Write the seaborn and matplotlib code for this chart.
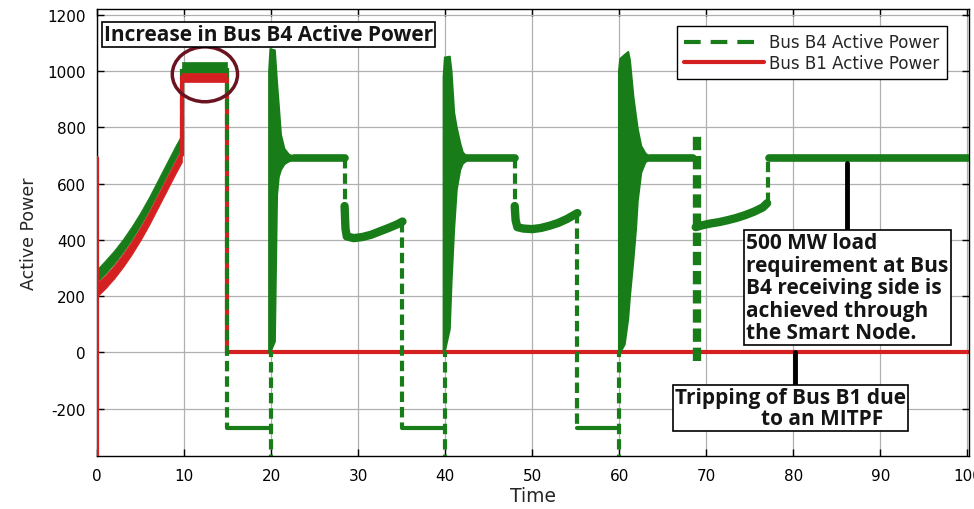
import matplotlib
matplotlib.use("Agg")
import matplotlib.pyplot as plt
from matplotlib.lines import Line2D
from matplotlib.patches import Ellipse
import seaborn as sns

# ---------------- data ----------------
# initial ramp (0 - 10 s): band centres of both buses
ramp_t = [0, 1, 2, 3, 4, 5, 6, 7, 8, 9, 9.75]
b4_ramp = [272, 305, 340, 380, 425, 475, 530, 590, 650, 710, 752]
b1_ramp = [222, 252, 287, 327, 372, 422, 477, 537, 597, 657, 700]

# plateau 10 - 15 s (lower / upper edge of the noisy band)
plateau_t = [9.75, 14.92]
b4_plateau_lo, b4_plateau_hi = 993, 1032
b1_plateau_lo, b1_plateau_hi = 962, 993

# Bus B1 after tripping
b1_spike_t, b1_spike_p = [0, 0], [-400, 690]
b1_rise_t, b1_rise_p = [9.75, 9.75], [700, 977]
b1_trip_t, b1_trip_p = [14.92, 14.92, 101], [977, 0, 0]

# Bus B4 steady levels
b4_settled = 690
b4_settled_spans = [(22.6, 28.45), (42.5, 48.0), (63.5, 68.5), (77.2, 101)]
b4_outage = -270
b4_outage_spans = [(14.92, 19.8), (35.1, 39.8), (55.2, 59.8)]

# Bus B4 recovering dips
dip1_t = [28.45, 28.55, 28.7, 29.5, 30.5, 31.5, 32.5, 33.5, 34.5, 35.1]
dip1_p = [520, 440, 412, 406, 410, 418, 430, 442, 455, 465]
dip2_t = [48.0, 48.1, 48.3, 49, 50, 51, 52, 53, 54, 55.2]
dip2_p = [520, 470, 445, 440, 438, 442, 450, 460, 474, 495]
dip3_t = [68.8, 69.6, 70.5, 71.5, 72.5, 73.5, 74.5, 75.5, 76.5, 77.0]
dip3_p = [445, 452, 458, 463, 470, 478, 488, 500, 515, 530]

# Bus B4 switching transients (envelopes)
osc1_t = [19.7, 19.85, 20.4, 20.65, 20.85, 21.1, 21.5, 22.0, 22.6]
osc1_hi = [1000, 1080, 1075, 960, 880, 775, 725, 705, 697]
osc1_lo = [0, 0, 40, 560, 625, 650, 670, 680, 684]
osc2_t = [39.75, 39.9, 40.5, 40.7, 41.0, 41.3, 41.7, 42.0, 42.5]
osc2_hi = [980, 1050, 1053, 1000, 854, 800, 745, 712, 697]
osc2_lo = [0, 0, 84, 250, 440, 580, 650, 672, 684]
osc3_t = [59.9, 60.05, 60.6, 61.0, 61.2, 61.6, 61.9, 62.1, 62.5, 63.0, 63.5]
osc3_hi = [1000, 1045, 1060, 1070, 1040, 910, 840, 795, 735, 708, 697]
osc3_lo = [0, 0, 30, 120, 200, 330, 440, 540, 640, 678, 685]

# Bus B4 step changes (time, from, to)
b4_jumps = [(9.75, 752, 1012), (14.92, 1012, -270), (20.0, -400, 0),
            (28.45, 690, 520), (35.1, 465, -270), (40.0, -400, 0),
            (48.0, 690, 520), (55.2, 495, -270), (60.0, -400, 0),
            (77.1, 530, 690)]
b4_flicker = (69.0, -30, 770)

x_ticks = list(range(0, 101, 10))
y_ticks = list(range(-200, 1201, 200))

# ---------------- style ----------------
GREEN = "#187c18"
RED = "#d42020"
sns.set_style("ticks")
plt.rcParams["font.family"] = ["DejaVu Sans"]
plt.rcParams["axes.unicode_minus"] = False

fig = plt.figure(figsize=(9.74, 5.10), dpi=100)
ax = fig.add_axes([97 / 974, 1 - 457 / 510, 872 / 974, 447 / 510])


def trace(t, p, **kw):
    sns.lineplot(x=t, y=p, ax=ax, estimator=None, sort=False, **kw)


DASH = (0, (2.5, 1.2))

# Bus B4 -------------------------------------------------------------
ax.fill_between(ramp_t, [v - 24 for v in b4_ramp], [v + 24 for v in b4_ramp],
                color=GREEN, lw=0.5, zorder=3)
ax.fill_between(plateau_t, [b4_plateau_lo] * 2, [b4_plateau_hi] * 2,
                color=GREEN, lw=0.5, zorder=3)
for t, lo, hi in [(osc1_t, osc1_lo, osc1_hi), (osc2_t, osc2_lo, osc2_hi),
                  (osc3_t, osc3_lo, osc3_hi)]:
    ax.fill_between(t, lo, hi, color=GREEN, lw=1.2, zorder=3)
for a, b in b4_settled_spans:
    trace([a, b], [b4_settled, b4_settled], color=GREEN, lw=5.5, zorder=3)
for a, b in b4_outage_spans:
    trace([a, b], [b4_outage, b4_outage], color=GREEN, lw=3, zorder=3)
for t, p in [(dip1_t, dip1_p), (dip2_t, dip2_p), (dip3_t, dip3_p)]:
    trace(t, p, color=GREEN, lw=6, zorder=3)
for t, a, b in b4_jumps:
    trace([t, t], [a, b], color=GREEN, lw=3, linestyle=DASH, zorder=3)
ft, fa, fb = b4_flicker
trace([ft, ft], [fa, fb], color=GREEN, lw=6, linestyle=(0, (1.6, 0.7)), zorder=3)

# Bus B1 -------------------------------------------------------------
ax.fill_between(ramp_t, [v - 24 for v in b1_ramp], [v + 24 for v in b1_ramp],
                color=RED, lw=0.5, zorder=4)
ax.fill_between(plateau_t, [b1_plateau_lo] * 2, [b1_plateau_hi] * 2,
                color=RED, lw=0.5, zorder=4)
trace(b1_spike_t, b1_spike_p, color=RED, lw=3, zorder=4)
trace(b1_rise_t, b1_rise_p, color=RED, lw=3, zorder=4)
trace(b1_trip_t, b1_trip_p, color=RED, lw=3, zorder=2.5)

# axes -------------------------------------------------------------------
ax.set_xlim(0, 100.2)
ax.set_ylim(-368, 1220)
ax.set_xticks(x_ticks)
ax.set_yticks(y_ticks)
ax.grid(True, color="#b0b0b0", lw=0.9, zorder=0)
ax.tick_params(direction="in", length=5, width=1, top=True, right=True,
               labelsize=11, colors="black")
ax.tick_params(axis="x", pad=9)
ax.tick_params(axis="y", pad=8)
for s in ax.spines.values():
    s.set_visible(True)
    s.set_color("black")
    s.set_linewidth(1)
ax.set_xlabel("Time", fontsize=13.5, labelpad=2)
ax.set_ylabel("Active Power", fontsize=12.5, labelpad=7)

handles = [Line2D([], [], color=GREEN, lw=3, linestyle=(0, (4, 2.4))),
           Line2D([], [], color=RED, lw=3)]
leg = ax.legend(handles, ["Bus B4 Active Power", "Bus B1 Active Power"],
                loc="upper right", bbox_to_anchor=(0.975, 0.962),
                borderaxespad=0, fontsize=12, handlelength=4.8,
                handletextpad=0.3, labelspacing=0.15, borderpad=0.45,
                fancybox=False, framealpha=1, edgecolor="black")
leg.get_frame().set_linewidth(1)

# annotations ------------------------------------------------------------
note_font = dict(family="Open Sans", weight="bold", size=15, color="#151515")
box = dict(boxstyle="square,pad=0.1", fc="white", ec="black", lw=1.2)

ax.text(0.008, 0.943, "Increase in Bus B4 Active Power", transform=ax.transAxes,
        ha="left", va="center", bbox=box, zorder=6, **note_font)

ax.add_patch(Ellipse((12.4, 988), 7.5, 195, fill=False, ec="#6a1422",
                     lw=2.5, zorder=5))

ax.plot([86.2, 86.2], [672, 435], color="black", lw=3.5, zorder=5)
ax.text(74.6, 428, "500 MW load\nrequirement at Bus\nB4 receiving side is\n"
        "achieved through\nthe Smart Node.", ha="left", va="top",
        linespacing=1.1, bbox=box, zorder=6, **note_font)

ax.plot([80.2, 80.2], [0, -119], color="black", lw=3.5, zorder=5)
ax.text(66.4, -124, "Tripping of Bus B1 due\n" + " " * 16 + "to an MITPF",
        ha="left", va="top", linespacing=0.95, bbox=box, zorder=6, **note_font)

fig.savefig("out.png", dpi=100)
